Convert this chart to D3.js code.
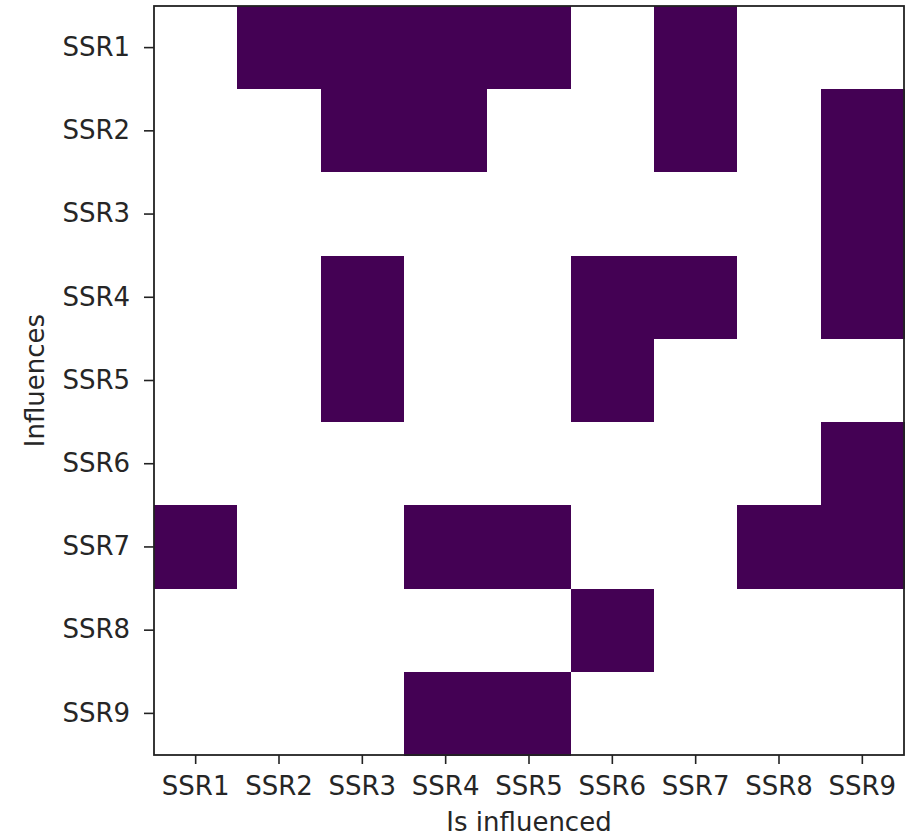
<!DOCTYPE html>
<html>
<head>
<meta charset="utf-8">
<script src="https://cdn.jsdelivr.net/npm/d3@7"></script>
<style>
  html, body { margin: 0; padding: 0; background: #fff; }
  svg { display: block; }
  text { font-family: "DejaVu Sans", sans-serif; fill: #262626; }
</style>
</head>
<body>
<script>
// Influence matrix between SSRs: row influences column (1 = yes)
const rowLabels = ["SSR1", "SSR2", "SSR3", "SSR4", "SSR5", "SSR6", "SSR7", "SSR8", "SSR9"];
const colLabels = ["SSR1", "SSR2", "SSR3", "SSR4", "SSR5", "SSR6", "SSR7", "SSR8", "SSR9"];
const influence = [
  [0, 1, 1, 1, 1, 0, 1, 0, 0],
  [0, 0, 1, 1, 0, 0, 1, 0, 1],
  [0, 0, 0, 0, 0, 0, 0, 0, 1],
  [0, 0, 1, 0, 0, 1, 1, 0, 1],
  [0, 0, 1, 0, 0, 1, 0, 0, 0],
  [0, 0, 0, 0, 0, 0, 0, 0, 1],
  [1, 0, 0, 1, 1, 0, 0, 1, 1],
  [0, 0, 0, 0, 0, 1, 0, 0, 0],
  [0, 0, 0, 1, 1, 0, 0, 0, 0]
];
const xLabel = "Is influenced";
const yLabel = "Influences";

const W = 912, H = 838;
const margin = { left: 154, top: 6, right: 8, bottom: 83 };
const plotW = W - margin.left - margin.right;
const plotH = H - margin.top - margin.bottom;
const fontSize = 26;

const svg = d3.select("body").append("svg").attr("width", W).attr("height", H);
const g = svg.append("g").attr("transform", `translate(${margin.left},${margin.top})`);

const x = d3.scaleBand().domain(colLabels).range([0, plotW]).padding(0);
const y = d3.scaleBand().domain(rowLabels).range([0, plotH]).padding(0);
const color = d3.scaleOrdinal().domain([0, 1]).range(["#ffffff", "#440154"]);

const cells = [];
influence.forEach((row, i) => row.forEach((v, j) => cells.push({ r: rowLabels[i], c: colLabels[j], v })));

g.selectAll("rect.cell").data(cells).join("rect")
  .attr("class", "cell")
  .attr("x", d => x(d.c))
  .attr("y", d => y(d.r))
  .attr("width", x.bandwidth() + 1)
  .attr("height", y.bandwidth() + 1)
  .attr("fill", d => color(d.v))
  .attr("shape-rendering", "crispEdges");

// Frame
g.append("rect").attr("x", 0).attr("y", 0).attr("width", plotW).attr("height", plotH)
  .attr("fill", "none").attr("stroke", "#222").attr("stroke-width", 1.8);

const xAxis = g.append("g").attr("transform", `translate(0,${plotH})`)
  .call(d3.axisBottom(x).tickSize(9).tickPadding(13));
const yAxis = g.append("g")
  .call(d3.axisLeft(y).tickSize(10).tickPadding(14));

[xAxis, yAxis].forEach(a => {
  a.select(".domain").remove();
  a.selectAll(".tick line").attr("stroke", "#222").attr("stroke-width", 1.6);
  a.selectAll(".tick text").attr("font-size", fontSize).attr("font-family", "DejaVu Sans, sans-serif").attr("fill", "#262626");
});

svg.append("text")
  .attr("x", margin.left + plotW / 2).attr("y", 831)
  .attr("text-anchor", "middle").attr("font-size", fontSize)
  .text(xLabel);

svg.append("text")
  .attr("transform", `translate(44,${margin.top + plotH / 2}) rotate(-90)`)
  .attr("text-anchor", "middle").attr("font-size", fontSize)
  .text(yLabel);
</script>
</body>
</html>
